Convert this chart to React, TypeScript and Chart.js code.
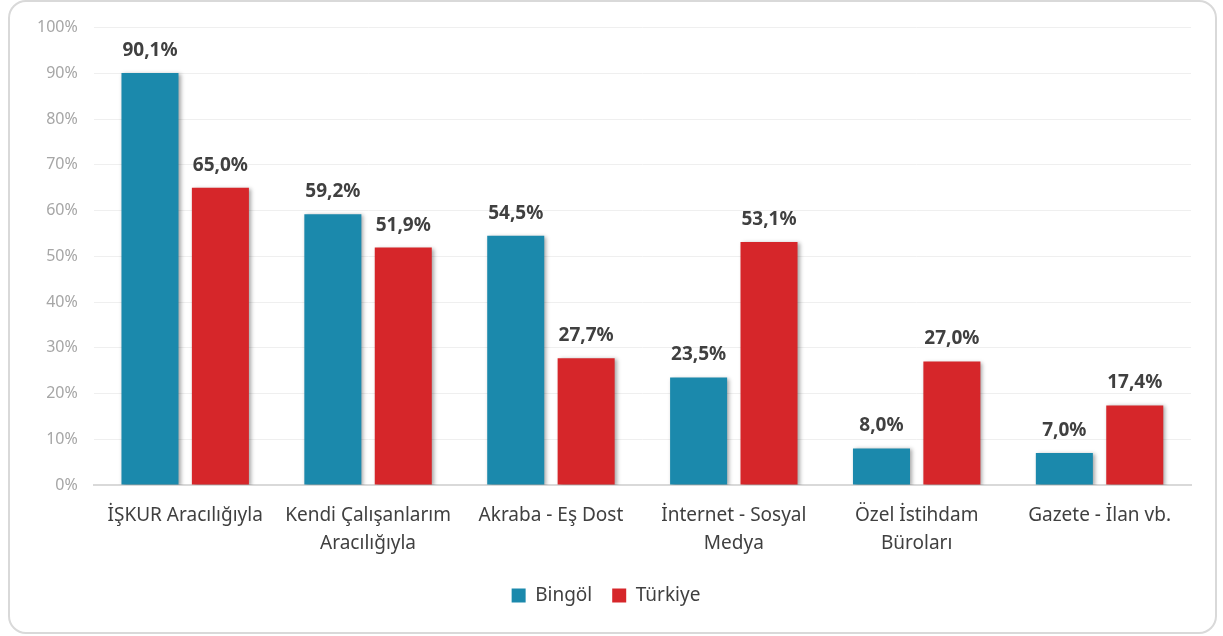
import React, { useEffect, useRef } from "react";
import { Chart, registerables } from "chart.js";
Chart.register(...registerables);

const categories: string[][] = [
  ["İŞKUR Aracılığıyla"],
  ["Kendi Çalışanlarım", "Aracılığıyla"],
  ["Akraba - Eş Dost"],
  ["İnternet - Sosyal", "Medya"],
  ["Özel İstihdam", "Büroları"],
  ["Gazete - İlan vb."],
];
const seriesNames = ["Bingöl", "Türkiye"];
const bingolValues = [90.1, 59.2, 54.5, 23.5, 8.0, 7.0];
const turkiyeValues = [65.0, 51.9, 27.7, 53.1, 27.0, 17.4];
const seriesColors = ["#1b89ac", "#d6262a"];

const FONT = "'Noto Sans', sans-serif";

const fmt = (v: number) => v.toFixed(1).replace(".", ",") + "%";

const shadowPlugin = {
  id: "barShadow",
  beforeDatasetsDraw(chart: any) {
    const ctx = chart.ctx;
    ctx.save();
    ctx.shadowColor = "rgba(0,0,0,0.35)";
    ctx.shadowBlur = 4;
    ctx.shadowOffsetX = 2;
    ctx.shadowOffsetY = 1;
  },
  afterDatasetsDraw(chart: any) {
    chart.ctx.restore();
  },
};

const labelPlugin = {
  id: "valueLabels",
  afterDatasetsDraw(chart: any) {
    const ctx = chart.ctx;
    ctx.save();
    ctx.font = `bold 19px ${FONT}`;
    ctx.fillStyle = "#404040";
    ctx.textAlign = "center";
    ctx.textBaseline = "bottom";
    chart.data.datasets.forEach((ds: any, i: number) => {
      const meta = chart.getDatasetMeta(i);
      meta.data.forEach((bar: any, j: number) => {
        ctx.fillText(fmt(ds.data[j]), bar.x, bar.y - 13);
      });
    });
    ctx.restore();
  },
};

export default function App() {
  const ref = useRef<HTMLCanvasElement | null>(null);
  useEffect(() => {
    if (!ref.current) return;
    const chart = new Chart(ref.current, {
      type: "bar",
      data: {
        labels: categories,
        datasets: [
          {
            label: seriesNames[0],
            data: bingolValues,
            backgroundColor: seriesColors[0],
            borderWidth: 0,
            categoryPercentage: 0.77,
            barPercentage: 0.81,
          },
          {
            label: seriesNames[1],
            data: turkiyeValues,
            backgroundColor: seriesColors[1],
            borderWidth: 0,
            categoryPercentage: 0.77,
            barPercentage: 0.81,
          },
        ],
      },
      options: {
        animation: false,
        responsive: true,
        maintainAspectRatio: false,
        layout: { padding: { top: 14, right: 24, bottom: 17, left: 11 } },
        scales: {
          x: {
            grid: { display: false },
            border: { color: "#d9d9d9", width: 2 },
            ticks: {
              color: "#404040",
              font: { family: FONT, size: 19, lineHeight: 1.5 },
              padding: 8,
              maxRotation: 0,
              autoSkip: false,
            },
          },
          y: {
            min: 0,
            max: 100,
            grid: { color: "#efefef", lineWidth: 1, drawTicks: false },
            border: { display: false },
            ticks: {
              stepSize: 10,
              color: "#a6a6a6",
              font: { family: FONT, size: 16 },
              padding: 16,
              callback: (v: any) => v + "%",
            },
          },
        },
        plugins: {
          legend: {
            position: "bottom",
            labels: {
              boxWidth: 14,
              boxHeight: 14,
              color: "#404040",
              font: { family: FONT, size: 19 },
              padding: 20,
            },
          },
          tooltip: { enabled: false },
        },
      },
      plugins: [shadowPlugin, labelPlugin],
    });
    return () => chart.destroy();
  }, []);
  return (
    <div
      style={{
        position: "absolute",
        left: 8,
        top: 0,
        width: 1209,
        height: 634,
        boxSizing: "border-box",
        border: "2px solid #d9d9d9",
        borderRadius: 18,
        background: "#fff",
      }}
    >
      <canvas ref={ref} />
    </div>
  );
}
